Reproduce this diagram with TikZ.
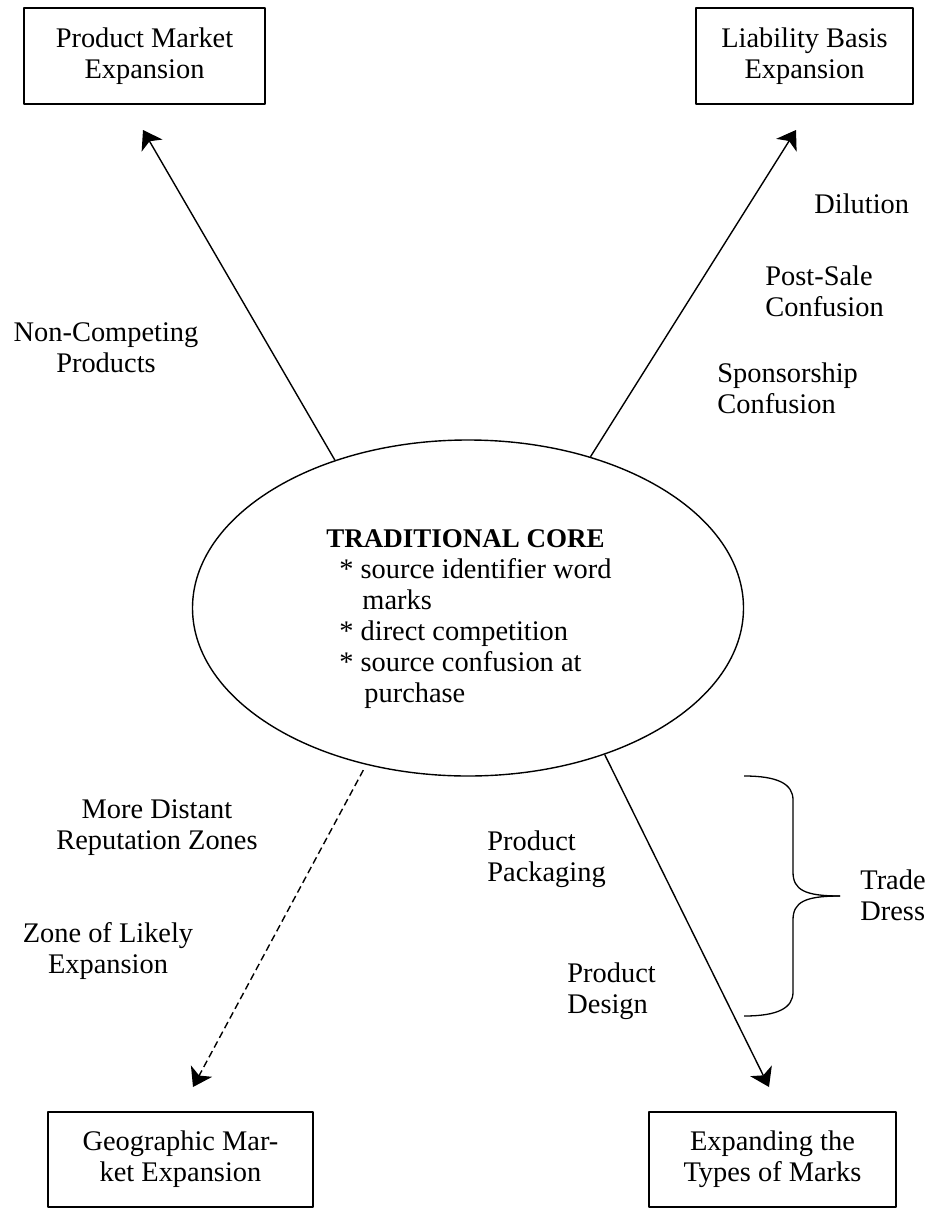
\documentclass[tikz,border=0pt]{standalone}
\usepackage{fontspec}
\setmainfont{Liberation Serif}
\usetikzlibrary{arrows.meta,shapes,positioning}
\newcommand \mydrawbox[6]
{
\node[box, minimum width={(#4-#2)*0.5pt}, minimum height={(#5-#3)*0.5pt}] (#1) at ({(#2+#4)/2},{(#3+#5)/2}) {#6};
}
\begin{document}
\begin{tikzpicture}[line join=round, x=0.5pt, y=-0.5pt,
  font=\fontsize{14.2pt}{15.5pt}\selectfont,
  box/.style={draw, rectangle, line width=0.65pt, inner sep=0pt, align=center},
  lbl/.style={inner sep=0pt, align=center},
  lbll/.style={inner sep=0pt, align=left, anchor=north west},
  arr/.style={-{Stealth[length=9pt,width=12pt,inset=2.5pt]}, line width=0.7pt}]
\useasboundingbox (0,0) rectangle (934,1209);
\mydrawbox{pme}{24}{8}{265}{104}{Product Market\\Expansion}
\mydrawbox{lbe}{696}{8}{913}{104}{Liability Basis\\Expansion}
\mydrawbox{gme}{48}{1112}{313}{1207}{Geographic Mar-\\ket Expansion}
\mydrawbox{etm}{649}{1112}{896}{1207}{Expanding the\\Types of Marks}
\node[draw, ellipse, line width=0.7pt, inner sep=0pt, minimum width=275.5pt, minimum height=168pt] (core) at (468,608) {};
\node[lbll] (coretext) at (326,529) {{\fontsize{13.5pt}{15.5pt}\selectfont\textbf{TRADITIONAL CORE}}\\
  \hspace{6.5pt}* source identifier word\\
  \hspace{18pt}marks\\
  \hspace{6.5pt}* direct competition\\
  \hspace{6.5pt}* source confusion at\\
  \hspace{19pt}purchase};
\coordinate (pmetip) at (143,130);
\coordinate (lbetip) at (796,130);
\coordinate (gmetip) at (193,1087);
\coordinate (etmtip) at (769,1087);
\draw[arr] (core.132) -- (pmetip);
\draw[arr] (core.51) -- (lbetip);
\draw[arr, dash pattern=on 3.5pt off 2pt, shorten <=3pt] (core.237) -- (gmetip);
\draw[arr] (core.313) -- (etmtip);
\node[lbl, anchor=north] (noncomp) at (106,322) {Non-Competing\\Products};
\node[lbll] (dilution) at (814,193) {Dilution};
\node[lbll] (postsale) at (765,265) {Post-Sale\\Confusion};
\node[lbll] (sponsor) at (717,362) {Sponsorship\\Confusion};
\node[lbl, anchor=north] (distant) at (157,799) {More Distant\\Reputation Zones};
\node[lbl, anchor=north] (likely) at (108,922) {Zone of Likely\\Expansion};
\node[lbll] (packaging) at (487,830) {Product\\Packaging};
\node[lbll] (design) at (567,962) {Product\\Design};
\node[lbll] (tradedress) at (860,869) {Trade\\Dress};
\coordinate (dresstip) at (840,896);
\draw[line width=0.65pt] (744,776) .. controls (778,776) and (793,784) .. (793,800) -- (793,872) .. controls (793,890) and (805,896) .. (dresstip);
\draw[line width=0.65pt] (dresstip) .. controls (805,896) and (793,902) .. (793,920) -- (793,992) .. controls (793,1008) and (778,1016) .. (744,1016);
\end{tikzpicture}
\end{document}
